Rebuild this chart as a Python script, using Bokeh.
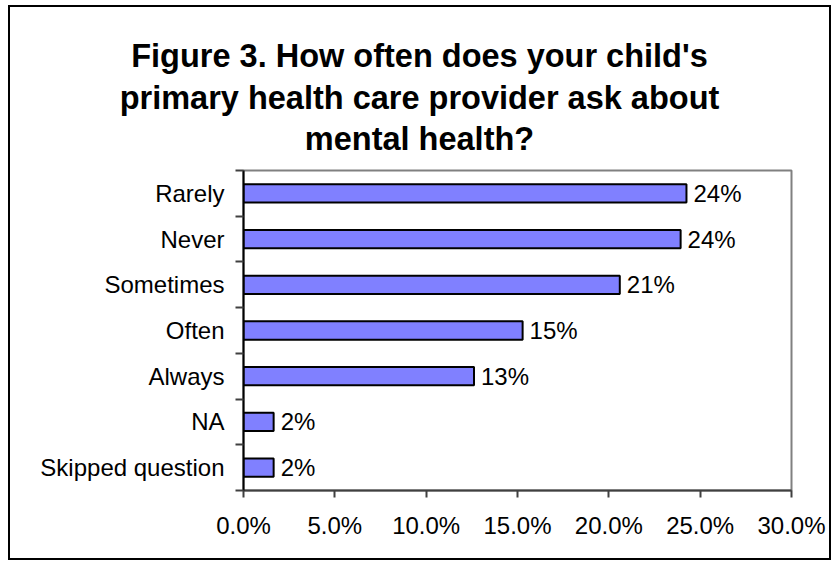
from bokeh.plotting import figure
from bokeh.models import (Range1d, FixedTicker, PrintfTickFormatter, Div,
                          ColumnDataSource, LabelSet)
from bokeh.layouts import column
from bokeh.embed import file_html
from bokeh.resources import INLINE
from bokeh.core.properties import value

# ---- data ----
categories = ["Rarely", "Never", "Sometimes", "Often", "Always", "NA", "Skipped question"]
percents = [24.25, 23.93, 20.6, 15.28, 12.62, 1.65, 1.65]
value_labels = ["24%", "24%", "21%", "15%", "13%", "2%", "2%"]
x_ticks = [0, 5, 10, 15, 20, 25, 30]
title_lines = ["Figure 3. How often does your child's",
               "primary health care provider ask about",
               "mental health?"]

FONT = "Liberation Sans"
n = len(categories)
positions = [n - 1 - i for i in range(n)]
source = ColumnDataSource(dict(cat=categories, y=positions, pct=percents, lab=value_labels))

W = 819
title_div = Div(
    text=("<div style=\"width:%dpx;text-align:center;font-family:'Liberation Sans';"
          "font-weight:bold;font-size:32.5px;line-height:41.5px;color:black;"
          "padding-top:29px;margin:0\">%s</div>") % (W, "<br>".join(title_lines)),
    width=W, height=150, margin=0, styles={"background-color": "white"})

p = figure(width=W, height=401, output_backend="svg", toolbar_location=None,
           x_range=Range1d(x_ticks[0], x_ticks[-1]), y_range=Range1d(-0.5, n - 0.5),
           min_border_left=233, min_border_right=38, min_border_top=13, min_border_bottom=68,
           margin=0)
p.background_fill_color = "white"
p.border_fill_color = "white"
p.outline_line_color = "#808080"
p.outline_line_width = 2
p.grid.visible = False

p.hbar(y="y", left=0, right="pct", height=0.4, source=source,
       fill_color="#8080FF", line_color="black", line_width=2)

labels = LabelSet(x="pct", y="y", text="lab", source=source, x_offset=7,
                  text_baseline="middle", text_align="left",
                  text_font=value(FONT), text_font_size="24px", text_color="black")
p.add_layout(labels)

# x axis
p.xaxis.ticker = FixedTicker(ticks=x_ticks)
p.xaxis.formatter = PrintfTickFormatter(format="%.1f%%")
p.xaxis.axis_line_color = "#404040"
p.xaxis.axis_line_width = 2
p.xaxis.major_tick_line_color = "#404040"
p.xaxis.major_tick_line_width = 2
p.xaxis.major_tick_out = 7
p.xaxis.major_tick_in = 0
p.xaxis.minor_tick_line_color = None
p.xaxis.major_label_standoff = 14
p.xaxis.major_label_text_font = FONT
p.xaxis.major_label_text_font_size = "24px"
p.xaxis.major_label_text_color = "black"

# y axis
p.yaxis.ticker = FixedTicker(ticks=positions, minor_ticks=[i - 0.5 for i in range(n + 1)])
p.yaxis.major_label_overrides = {pos: cat for pos, cat in zip(positions, categories)}
p.yaxis.axis_line_color = "black"
p.yaxis.axis_line_width = 2
p.yaxis.major_tick_out = 0
p.yaxis.major_tick_in = 0
p.yaxis.minor_tick_out = 8
p.yaxis.minor_tick_in = 0
p.yaxis.minor_tick_line_color = "#404040"
p.yaxis.minor_tick_line_width = 2
p.yaxis.major_label_standoff = 11
p.yaxis.major_label_text_font = FONT
p.yaxis.major_label_text_font_size = "24px"
p.yaxis.major_label_text_color = "black"

layout = column(title_div, p, spacing=0,
                styles={"border": "2px solid black", "margin-left": "8px",
                        "margin-top": "5px", "background-color": "white"})

open("out.html", "w").write(file_html(layout, INLINE))
